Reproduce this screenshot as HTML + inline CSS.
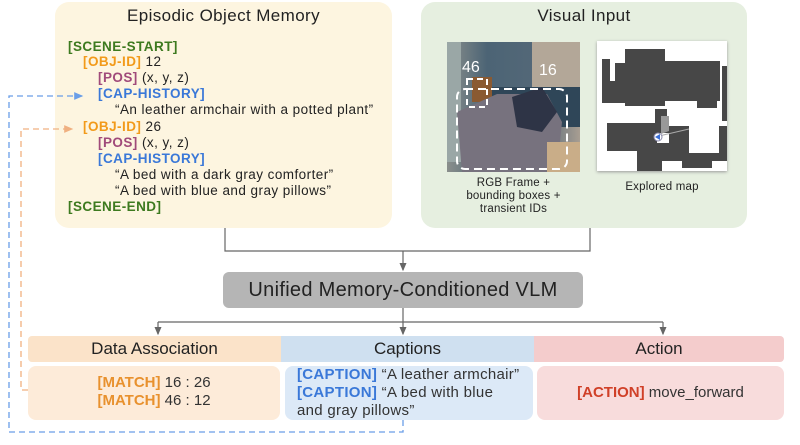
<!DOCTYPE html>
<html><head><meta charset="utf-8"><style>
body{margin:0;width:800px;height:445px;background:#fff;position:relative;overflow:hidden;font-family:"Liberation Sans","DejaVu Sans",sans-serif;}
.abs{position:absolute}
.t{position:absolute;font-size:13.5px;letter-spacing:0.45px;color:#222;white-space:nowrap;line-height:14px}
.g{color:#3d7a1f;font-weight:bold}.o{color:#f29a1a;font-weight:bold}.p{color:#a04a7a;font-weight:bold}.b{color:#3a78d8;font-weight:bold}
.hdr{position:absolute;top:336px;height:26px;line-height:26px;text-align:center;font-size:17px;color:#222}
.body{position:absolute;top:366px;height:54px;border-radius:8px;font-size:15px;color:#333}
</style></head><body>
<div class="abs" style="left:55px;top:2px;width:337px;height:226px;background:#fdf5e0;border-radius:14px"></div>
<div class="abs" style="left:421px;top:2px;width:326px;height:226px;background:#e6efe0;border-radius:14px"></div>
<div class="t" style="left:55px;width:337px;text-align:center;top:6px;font-size:17px;line-height:20px;letter-spacing:0.4px">Episodic Object Memory</div>
<div class="t" style="left:421px;width:326px;text-align:center;top:6px;font-size:17px;line-height:20px;letter-spacing:0.4px">Visual Input</div>
<div class="t g" style="left:68px;top:40px">[SCENE-START]</div>
<div class="t" style="left:83px;top:55px"><span class="o">[OBJ-ID]</span> 12</div>
<div class="t" style="left:98px;top:71px"><span class="p">[POS]</span> (x, y, z)</div>
<div class="t b" style="left:98px;top:87px">[CAP-HISTORY]</div>
<div class="t" style="left:115px;top:103px">“An leather armchair with a potted plant”</div>
<div class="t" style="left:83px;top:120px"><span class="o">[OBJ-ID]</span> 26</div>
<div class="t" style="left:98px;top:136px"><span class="p">[POS]</span> (x, y, z)</div>
<div class="t b" style="left:98px;top:152px">[CAP-HISTORY]</div>
<div class="t" style="left:115px;top:168px">“A bed with a dark gray comforter”</div>
<div class="t" style="left:115px;top:184px">“A bed with blue and gray pillows”</div>
<div class="t g" style="left:68px;top:200px">[SCENE-END]</div>
<svg class="abs" style="left:447px;top:42px" width="133" height="130">
<defs><linearGradient id="w" x1="0" y1="0" x2="1" y2="0"><stop offset="0" stop-color="#8a8f8c"/><stop offset="0.3" stop-color="#4c6475"/><stop offset="0.7" stop-color="#546878"/><stop offset="1" stop-color="#a89e92"/></linearGradient></defs>
<rect width="133" height="130" fill="url(#w)"/>
<rect x="85" y="0" width="48" height="45" fill="#b3a798"/>
<rect x="0" y="0" width="14" height="120" fill="#9aa7a6"/>
<rect x="45" y="45" width="88" height="40" fill="#2f4658"/>
<rect x="25" y="35" width="20" height="25" fill="#8a5a32"/>
<path d="M10 70 L50 52 L100 52 L115 80 L110 130 L15 130 Z" fill="#77727e"/>
<path d="M65 55 L95 45 L110 70 L95 90 L70 85 Z" fill="#2e3446"/>
<rect x="100" y="100" width="33" height="30" fill="#c9ad88"/>
<text x="15" y="30" font-size="16" fill="#fff" font-family="Liberation Sans">46</text>
<text x="92" y="33" font-size="16" fill="#fff" font-family="Liberation Sans">16</text>
<rect x="20" y="37" width="20" height="28" fill="none" stroke="#fff" stroke-width="2" stroke-dasharray="6,4"/>
<rect x="10" y="47" width="110" height="80" rx="8" fill="none" stroke="#fff" stroke-width="2" stroke-dasharray="8,5"/>
</svg>
<svg class="abs" style="left:597px;top:41px;box-shadow:0 1px 3px #999" width="130" height="130">
<rect width="130" height="130" fill="#fff"/>
<g fill="#474747">
<rect x="5" y="18" width="8" height="42"/><rect x="18" y="22" width="10" height="40"/><rect x="5" y="40" width="25" height="22"/>
<rect x="28" y="8" width="40" height="57"/><rect x="68" y="20" width="55" height="40"/><rect x="100" y="55" width="20" height="12"/>
<rect x="125" y="25" width="5" height="55"/>
<rect x="10" y="82" width="55" height="28"/><rect x="58" y="68" width="12" height="20"/>
<rect x="60" y="85" width="70" height="35"/><rect x="40" y="105" width="25" height="25"/><rect x="85" y="115" width="30" height="12"/>
</g>
<rect x="92" y="82" width="30" height="30" fill="#fff"/>
<rect x="60" y="92" width="12" height="10" fill="#fff"/>
<path d="M64 75 L72 75 L72 90 L64 93Z" fill="#999"/>
<line x1="62" y1="95" x2="92" y2="88" stroke="#aaa" stroke-width="1"/>
<circle cx="61" cy="96" r="4" fill="#fff" stroke="#88a" /><path d="M58 96 L63 93 L63 99Z" fill="#3a6fd8"/>
</svg>
<div class="t" style="left:437px;width:153px;text-align:center;top:177px;font-size:11.5px;line-height:13px;letter-spacing:0.2px">RGB Frame +<br>bounding boxes +<br>transient IDs</div>
<div class="t" style="left:587px;width:150px;text-align:center;top:180px;font-size:11.5px;letter-spacing:0.2px">Explored map</div>

<svg class="abs" style="left:0;top:0" width="800" height="445">
<defs><marker id="a" markerWidth="8" markerHeight="8" refX="6" refY="4" orient="auto"><path d="M0 1 L7 4 L0 7Z" fill="#666"/></marker>
<marker id="ab" markerWidth="8" markerHeight="8" refX="6" refY="4" orient="auto"><path d="M0 1 L7 4 L0 7Z" fill="#6a9ee8"/></marker>
<marker id="ao" markerWidth="8" markerHeight="8" refX="6" refY="4" orient="auto"><path d="M0 1 L7 4 L0 7Z" fill="#f0b080"/></marker></defs>
<g stroke="#666" stroke-width="1.2" fill="none">
<path d="M225 228 V251 H590 V228"/>
<path d="M403 251 V270" marker-end="url(#a)"/>
<path d="M403 308 V322 M158 322 H663"/>
<path d="M158 322 V334" marker-end="url(#a)"/>
<path d="M403 322 V334" marker-end="url(#a)"/>
<path d="M663 322 V334" marker-end="url(#a)"/>
</g>
<path d="M403 420 V432 H9 V96 H82" stroke="#6a9ee8" stroke-width="1.3" stroke-dasharray="6,4" fill="none" marker-end="url(#ab)"/>
<path d="M28 390 H21 V129 H72" stroke="#f0b080" stroke-width="1.3" stroke-dasharray="6,4" fill="none" marker-end="url(#ao)"/>
</svg>
<div class="abs" style="left:223px;top:272px;width:360px;height:36px;background:#b5b5b5;border-radius:6px;text-align:center;line-height:36px;font-size:20px;letter-spacing:0.3px;color:#222">Unified Memory-Conditioned VLM</div>

<div class="hdr" style="left:28px;width:253px;background:#fbe3c9;border-radius:4px 0 0 4px">Data Association</div>
<div class="hdr" style="left:281px;width:253px;background:#cfe0f0">Captions</div>
<div class="hdr" style="left:534px;width:250px;background:#f4cccc;border-radius:0 4px 4px 0">Action</div>
<div class="body" style="left:28px;width:252px;background:#fdebd9;text-align:center;padding-top:8px;height:46px;line-height:18px"><span class="o" style="color:#e8912e">[MATCH]</span> 16 : 26<br><span class="o" style="color:#e8912e">[MATCH]</span> 46 : 12</div>
<div class="body" style="left:285px;background:#dce9f7;padding:0 0 0 12px;height:54px;width:236px;line-height:18px;letter-spacing:0.3px;white-space:nowrap"><span class="b">[CAPTION]</span> “A leather armchair”<br><span class="b">[CAPTION]</span> “A bed with blue<br>and gray pillows”</div>
<div class="body" style="left:537px;width:247px;background:#f8dcdc;text-align:center;line-height:54px"><b style="color:#d04028">[ACTION]</b> move_forward</div>
</body></html>
